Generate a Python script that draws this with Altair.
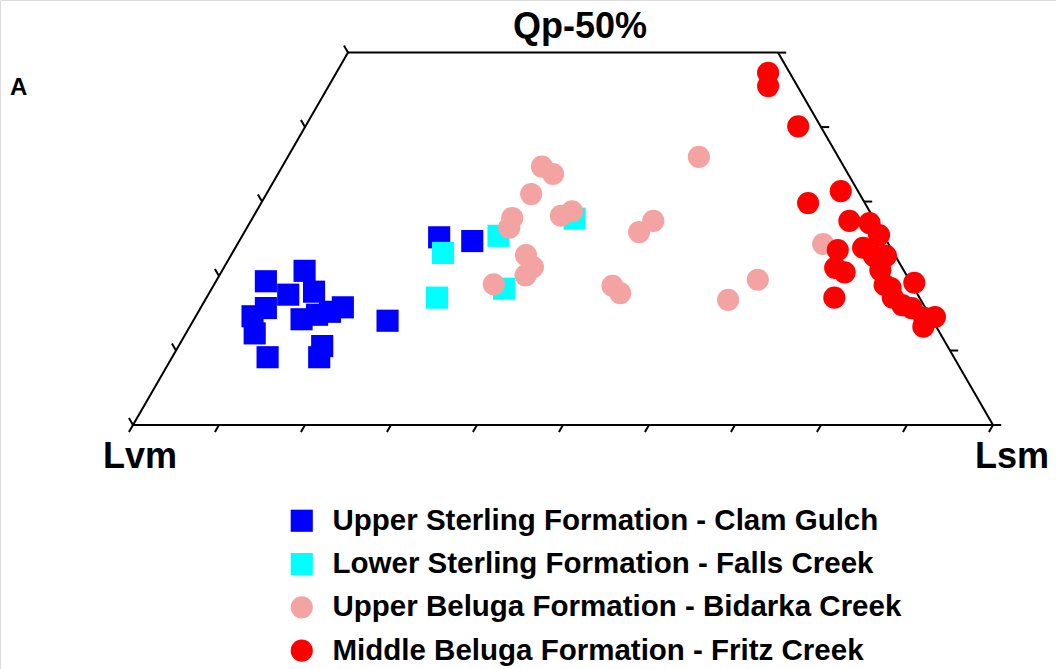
import altair as alt
import numpy as np
import pandas as pd

# ---------------- data (ternary percentages) ----------------
categories = [
    "Upper Sterling Formation - Clam Gulch",
    "Lower Sterling Formation - Falls Creek",
    "Upper Beluga Formation - Bidarka Creek",
    "Middle Beluga Formation - Fritz Creek",
]
colors = ["#0000FF", "#00FFFF", "#F4A3A3", "#FF0000"]
shapes = ["square", "square", "circle", "circle"]

# Upper Sterling - Clam Gulch
us_qp = [19.3, 20.7, 17.5, 17.9, 15.7, 14.6, 12.3, 14.2, 14.8, 15.2, 15.8, 14.0, 9.1, 10.6, 9.1, 25.2, 24.7]
us_lsm = [5.8, 9.6, 9.3, 12.1, 7.6, 6.6, 8.0, 12.5, 14.0, 15.3, 16.5, 22.6, 11.1, 16.7, 17.1, 23.0, 27.1]
# Lower Sterling - Falls Creek
ls_qp = [23.1, 25.4, 17.1, 18.3, 27.7]
ls_lsm = [24.5, 29.8, 26.8, 34.0, 37.5]
# Upper Beluga - Bidarka Creek
ub_qp = [34.7, 33.7, 31.0, 27.8, 26.5, 28.1, 28.7, 22.8, 21.2, 20.1, 18.9, 25.9, 27.4, 18.7, 17.7, 36.0, 19.5, 16.8, 24.3]
ub_lsm = [30.2, 32.0, 30.8, 30.2, 30.5, 35.7, 36.7, 34.3, 35.9, 35.6, 32.5, 45.9, 46.8, 46.4, 47.8, 47.8, 62.9, 60.8, 68.1]
# Middle Beluga - Fritz Creek
mb_qp = [47.3, 45.5, 40.1, 31.4, 29.8, 27.4, 27.1, 25.5, 23.5, 23.8, 22.7, 22.7, 21.1, 20.5, 18.8, 18.4, 19.1,
         17.1, 16.1, 15.7, 14.4, 14.5, 13.2, 17.1, 20.8]
mb_lsm = [50.2, 51.1, 57.3, 66.6, 63.6, 69.6, 72.1, 74.0, 70.2, 73.0, 74.8, 76.2, 71.1, 72.5, 78.0, 78.9, 81.3,
          79.8, 81.4, 82.7, 84.8, 86.0, 85.3, 73.0, 76.5]

tick_steps = [0, 10, 20, 30, 40, 50, 60, 70, 80, 90, 100]
qp_cut = 50

# ---------------- ternary -> cartesian ----------------
S3 = np.sqrt(3) / 2


def tern(lsm, qp):
    return lsm + qp / 2.0, qp * S3


rows = []
for cat, qps, lsms in zip(categories, [us_qp, ls_qp, ub_qp, mb_qp], [us_lsm, ls_lsm, ub_lsm, mb_lsm]):
    for q, l in zip(qps, lsms):
        x, y = tern(l, q)
        rows.append({"group": cat, "x": x, "y": y, "Qp": q, "Lsm": l})
pts = pd.DataFrame(rows)

# frame (truncated triangle)
corners = [(0, 0), (100, 0), (100 - qp_cut, qp_cut), (0, qp_cut)]
edges = []
for i in range(4):
    a = tern(*corners[i])
    b = tern(*corners[(i + 1) % 4])
    edges.append({"x": a[0], "y": a[1], "x2": b[0], "y2": b[1]})
edges = pd.DataFrame(edges)

# ticks
TL = 0.95
ticks = []
for v in tick_steps:  # base ticks (Lsm)
    x, y = tern(v, 0)
    ticks.append({"x": x, "y": y, "x2": x - 0.5 * TL, "y2": y - S3 * TL})
for v in [t for t in tick_steps if t <= qp_cut]:  # left edge (Qp)
    x, y = tern(0, v)
    ticks.append({"x": x, "y": y, "x2": x - 0.5 * TL, "y2": y + S3 * TL})
    x, y = tern(100 - v, v)  # right edge
    ticks.append({"x": x, "y": y, "x2": x + TL, "y2": y})
ticks = pd.DataFrame(ticks)

# ---------------- scales: equal aspect ----------------
PX = 8.6  # pixels per unit
X0, Y0 = 133, 425
W, H = 1056, 669
xs = alt.Scale(domain=[-X0 / PX, (W - X0) / PX], nice=False, zero=False)
ys = alt.Scale(domain=[-(H - Y0) / PX, Y0 / PX], nice=False, zero=False)

FONT = "Liberation Sans"

legend = alt.Legend(
    title=None, orient="none", legendX=287, legendY=506,
    labelFont=FONT, labelFontSize=29.5, labelFontWeight="bold", labelColor="black",
    labelLimit=900, labelOffset=16, symbolSize=440, symbolOpacity=1, symbolStrokeWidth=0,
    rowPadding=12.3, padding=0,
)

points = alt.Chart(pts).mark_point(filled=True, opacity=1, strokeWidth=0).encode(
    x=alt.X("x:Q", scale=xs, axis=None),
    y=alt.Y("y:Q", scale=ys, axis=None),
    color=alt.Color("group:N", scale=alt.Scale(domain=categories, range=colors), legend=legend),
    shape=alt.Shape("group:N", scale=alt.Scale(domain=categories, range=shapes), legend=legend),
    size=alt.Size("group:N", scale=alt.Scale(domain=categories, range=[490, 490, 610, 610]), legend=None),
    order=alt.Order("idx:Q"),
).transform_window(idx="row_number()")

frame = alt.Chart(edges).mark_rule(color="black", strokeWidth=2).encode(
    x=alt.X("x:Q", scale=xs, axis=None), y=alt.Y("y:Q", scale=ys, axis=None), x2="x2:Q", y2="y2:Q"
)
tk = alt.Chart(ticks).mark_rule(color="black", strokeWidth=2).encode(
    x=alt.X("x:Q", scale=xs, axis=None), y=alt.Y("y:Q", scale=ys, axis=None), x2="x2:Q", y2="y2:Q"
)


def label(txt, x, y, size, align="left"):
    return alt.Chart(pd.DataFrame({"t": [txt]})).mark_text(
        font=FONT, fontWeight="bold", fontSize=size, align=align, baseline="alphabetic", color="black"
    ).encode(x=alt.value(x), y=alt.value(y), text="t:N")


labels = (
    label("Qp-50%", 580, 38, 36, "center")
    + label("Lvm", 103, 468, 36)
    + label("Lsm", 975, 468, 36)
    + label("A", 10, 95, 24)
)

chart = (frame + tk + points + labels).properties(
    width=W, height=H, autosize=alt.AutoSizeParams(type="none"), padding=0
).configure_view(stroke=None).configure(background="white")

chart.save("out.html", embed_options={"renderer": "svg", "actions": False})
